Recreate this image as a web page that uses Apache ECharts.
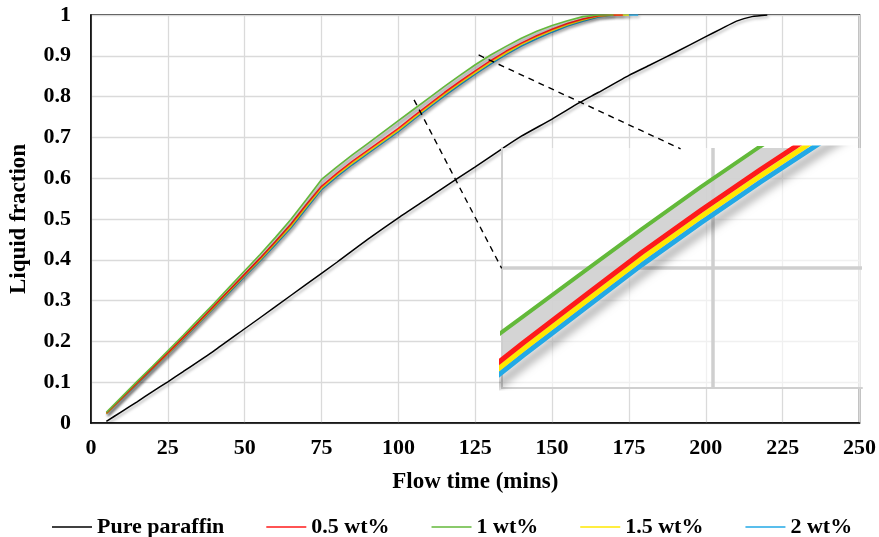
<!DOCTYPE html>
<html><head><meta charset="utf-8">
<script src="https://cdn.jsdelivr.net/npm/echarts@6/dist/echarts.min.js"></script>
<style>html,body{margin:0;padding:0;background:#fff}#c{width:879px;height:537px}</style>
</head><body><div id="c"></div>
<script>
// ---------- data ----------
const seriesNames = ['Pure paraffin', '0.5 wt%', '1 wt%', '1.5 wt%', '2 wt%'];
const timeParaffin = [5,10,15,20,25,30,40,50,60,70,80,90,100,110,118.5,125,133.7,140,150,158.9,165,175,182,190,200,205,210,215,220];
const paraffin     = [0.004,0.028,0.052,0.077,0.101,0.126,0.177,0.231,0.285,0.34,0.394,0.45,0.503,0.553,0.596,0.628,0.672,0.703,0.745,0.785,0.81,0.852,0.878,0.908,0.947,0.966,0.985,0.996,1.0];
const timeNano = [5,10,15,20,25,30,35,40,45,50,55,60,65,70,75,80,85,90,95,100,105,110,115,120,125,130,135,140,145,150,155,160,165,170];
const wt05 = [0.024,0.061,0.098,0.135,0.172,0.21,0.248,0.287,0.326,0.365,0.404,0.445,0.487,0.535,0.58,0.612,0.641,0.668,0.695,0.722,0.752,0.781,0.81,0.837,0.863,0.888,0.911,0.931,0.949,0.965,0.979,0.99,0.998,1.0];
const wt1  = [0.026,0.064,0.102,0.139,0.177,0.215,0.254,0.293,0.333,0.373,0.413,0.455,0.499,0.547,0.597,0.628,0.657,0.685,0.713,0.741,0.769,0.797,0.825,0.852,0.878,0.902,0.923,0.943,0.96,0.974,0.986,0.996,1.0,1.0];
const wt15 = [0.023,0.06,0.097,0.134,0.17,0.208,0.246,0.284,0.323,0.362,0.4,0.441,0.482,0.53,0.576,0.608,0.637,0.664,0.691,0.718,0.748,0.777,0.806,0.833,0.859,0.884,0.907,0.928,0.946,0.962,0.976,0.988,0.997,1.0];
const wt2  = [0.022,0.059,0.096,0.132,0.169,0.206,0.244,0.282,0.32,0.359,0.397,0.437,0.478,0.525,0.572,0.604,0.633,0.66,0.687,0.714,0.744,0.773,0.802,0.829,0.855,0.88,0.903,0.924,0.942,0.958,0.973,0.985,0.995,1.0];
const plateauEnd = [173, 170, 175, 178];           // end of the flat part at 1 for 0.5, 1, 1.5, 2 wt%
const connectorA = [[105.1, 0.792], [133.6, 0.379]];
const connectorB = [[126.1, 0.902], [191.8, 0.672]];
const insetRange = [103.2, 133.6, 0.723, 0.877];   // tMin, tMax, vMin, vMax of magnified view
const insetGridAt = [121, 0.8];

// ---------- build ----------
const colors = ['#000000', '#ff1a1a', '#63b93a', '#ffe800', '#22a9e6'];
const nanoVals = [wt05, wt1, wt15, wt2];
function pairs(t, v) { return t.map((x, i) => [x, v[i]]); }
function withTail(v, end) {
  const p = pairs(timeNano, v);
  if (end > timeNano[timeNano.length - 1]) p.push([end, 1.0]);
  return p;
}
const FONT = 'Liberation Serif';
const mainShadow = { shadowColor: 'rgba(0,0,0,0.35)', shadowBlur: 3, shadowOffsetX: 1.5, shadowOffsetY: 2 };

function bandSeries(xi, yi, fill, z) {
  return {
    type: 'custom', name: '_band' + xi, xAxisIndex: xi, yAxisIndex: yi, silent: true, z: z, clip: true,
    data: [[timeNano[0], wt1[0]]],
    encode: { x: 0, y: 1 },
    renderItem: function (params, api) {
      const upper = timeNano.map((t, i) => api.coord([t, wt1[i]]));
      const lower = timeNano.map((t, i) => api.coord([t, wt2[i]])).reverse();
      return { type: 'polygon', shape: { points: upper.concat(lower) }, style: { fill: fill } };
    }
  };
}

const series = [];
series.push(bandSeries(0, 0, 'rgba(185,185,185,0.5)', 1));
series.push({ type: 'line', name: seriesNames[0], data: pairs(timeParaffin, paraffin), symbol: 'none', smooth: 0.2,
  lineStyle: Object.assign({ color: colors[0], width: 1.5 }, mainShadow), itemStyle: { color: colors[0] }, z: 2 });
[3, 2, 0, 1].forEach(k => {
  series.push({ type: 'line', name: seriesNames[k + 1], data: withTail(nanoVals[k], plateauEnd[k]), symbol: 'none',
    lineStyle: Object.assign({ color: colors[k + 1], width: 1.6 }, mainShadow), itemStyle: { color: colors[k + 1] }, z: 3 });
});
[connectorA, connectorB].forEach((c, i) => {
  series.push({ type: 'line', name: '_conn' + i, data: c, symbol: 'none', silent: true, z: 6,
    lineStyle: { color: '#000', width: 1.4, type: [6, 5] } });
});
// inset
series.push({ type: 'line', name: '_igrid', xAxisIndex: 1, yAxisIndex: 1, data: [], symbol: 'none', silent: true, z: 4,
  markLine: { silent: true, symbol: 'none', label: { show: false }, animation: false,
    lineStyle: { color: '#cfcfcf', width: 3.5, type: 'solid' },
    data: [{ xAxis: insetGridAt[0] }, { yAxis: insetGridAt[1] }] } });
series.push(bandSeries(1, 1, 'rgba(205,205,205,0.85)', 4));
[3, 2, 0, 1].forEach(k => {
  const sh = k === 3 ? { shadowColor: 'rgba(0,0,0,0.5)', shadowBlur: 10, shadowOffsetX: 3, shadowOffsetY: 7 } : {};
  series.push({ type: 'line', name: '_i' + k, xAxisIndex: 1, yAxisIndex: 1, data: withTail(nanoVals[k], plateauEnd[k]),
    symbol: 'none', silent: true, z: 5,
    lineStyle: Object.assign({ color: colors[k + 1], width: k === 1 ? 4 : 5 }, sh) });
});

const chart = echarts.init(document.getElementById('c'), null, { renderer: 'canvas' });
chart.setOption({
  animation: false,
  backgroundColor: '#ffffff',
  textStyle: { fontFamily: FONT },
  grid: [
    { left: 88, right: 17, top: 15, bottom: 114, show: true, borderColor: '#000', borderWidth: 1.5, backgroundColor: 'transparent' },
    { left: 502, top: 148, width: 360, height: 240, show: true, borderWidth: 0, backgroundColor: 'rgba(255,255,255,0.6)', z: 3 }
  ],
  xAxis: [
    { type: 'value', min: 0, max: 250, interval: 25, gridIndex: 0,
      name: 'Flow time (mins)', nameLocation: 'middle', nameGap: 48,
      nameTextStyle: { fontFamily: FONT, fontWeight: 'bold', fontSize: 23, color: '#000' },
      axisLine: { show: true, lineStyle: { color: '#000', width: 1.5 } }, axisTick: { show: false },
      axisLabel: { margin: 14, fontFamily: FONT, fontWeight: 'bold', fontSize: 22, color: '#000' },
      splitLine: { show: true, lineStyle: { color: '#dadada', width: 1.3 } } },
    { type: 'value', gridIndex: 1, min: insetRange[0], max: insetRange[1], z: 3,
      axisLine: { show: true, onZero: false, lineStyle: { color: '#d0d0d0', width: 2 } },
      axisTick: { show: false }, axisLabel: { show: false }, splitLine: { show: false } }
  ],
  yAxis: [
    { type: 'value', min: 0, max: 1, interval: 0.1, gridIndex: 0,
      name: 'Liquid fraction', nameLocation: 'middle', nameGap: 60,
      nameTextStyle: { fontFamily: FONT, fontWeight: 'bold', fontSize: 23, color: '#000' },
      axisLine: { show: true, lineStyle: { color: '#000', width: 1.5 } }, axisTick: { show: false },
      axisLabel: { margin: 20, fontFamily: FONT, fontWeight: 'bold', fontSize: 22, color: '#000',
        formatter: v => String(+v.toFixed(1)) },
      splitLine: { show: true, lineStyle: { color: '#dadada', width: 1.3 } } },
    { type: 'value', gridIndex: 1, min: insetRange[2], max: insetRange[3], z: 3,
      axisLine: { show: true, onZero: false, lineStyle: { color: '#d0d0d0', width: 2 } },
      axisTick: { show: false }, axisLabel: { show: false }, splitLine: { show: false } }
  ],
  legend: {
    data: seriesNames, left: 47, top: 511, itemWidth: 40, itemHeight: 14, itemGap: 42,
    icon: 'path://M0,6L40,6L40,7.5L0,7.5Z',
    textStyle: { fontFamily: FONT, fontWeight: 'bold', fontSize: 22, color: '#000' }
  },
  series: series
});
</script></body></html>
